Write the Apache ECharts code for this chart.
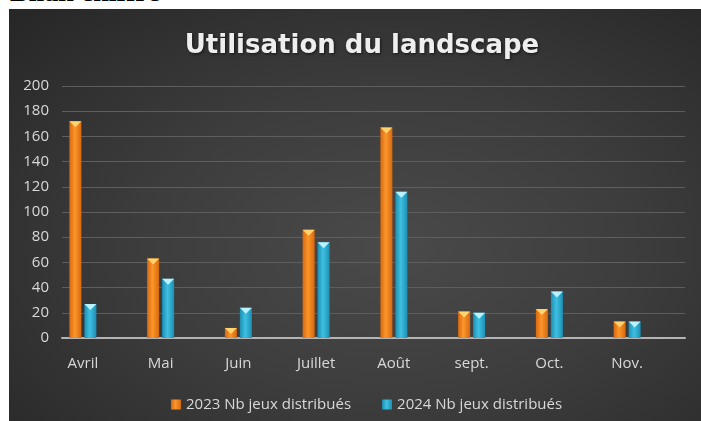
<!DOCTYPE html>
<html>
<head>
<meta charset="utf-8">
<script src="https://cdn.jsdelivr.net/npm/echarts@6/dist/echarts.min.js"></script>
<style>
  html, body { margin: 0; padding: 0; background: #fff; overflow: hidden; }
  #hdr { position: absolute; left: 10px; top: -22px; font: bold 28px "Liberation Serif", serif; line-height: 28px; color: #000; }
  #panel { position: absolute; left: 9px; top: 9px; width: 692px; height: 412px;
    background: radial-gradient(ellipse at 55% 58%, #4a4a4a 0%, #3d3d3d 45%, #262626 100%); }
  #chart { position: absolute; left: 0; top: 0; width: 701px; height: 421px; }
</style>
</head>
<body>
<div id="hdr">Bilan chiffré</div>
<div id="panel"></div>
<div id="chart"></div>
<script>
// values
var categories = ['Avril', 'Mai', 'Juin', 'Juillet', 'Août', 'sept.', 'Oct.', 'Nov.'];
var values2023 = [172, 63, 8, 86, 167, 21, 23, 13];
var values2024 = [27, 47, 24, 76, 116, 20, 37, 13];
var seriesNames = ['2023 Nb jeux distribués', '2024 Nb jeux distribués'];
var yMin = 0, yMax = 200, yStep = 20;

function barFill(dark, mid) {
  return new echarts.graphic.LinearGradient(0, 0, 1, 0, [
    { offset: 0, color: dark },
    { offset: 0.45, color: mid },
    { offset: 1, color: dark }
  ]);
}
var orange = barFill('#d8690f', '#fb962a');
var blue = barFill('#1d8fb3', '#3ec0e2');

function capSeries(name, data, color) {
  // the light triangle on top of each column
  return {
    name: name, type: 'pictorialBar', xAxisIndex: 1, yAxisIndex: 1,
    symbol: 'triangle', symbolRotate: 180, symbolSize: [12, 6],
    symbolPosition: 'end', barWidth: 12, barGap: '25%',
    itemStyle: { color: color }, data: data, z: 5, silent: true
  };
}

var chart = echarts.init(document.getElementById('chart'));
chart.setOption({
  backgroundColor: 'transparent',
  animation: false,
  title: {
    text: 'Utilisation du landscape',
    left: 357, top: 28, textAlign: 'center',
    textStyle: {
      fontFamily: 'DejaVu Sans', fontSize: 26, fontWeight: 600, color: '#eeeeee',
      textShadowColor: 'rgba(0,0,0,0.6)', textShadowBlur: 3, textShadowOffsetX: 1, textShadowOffsetY: 1
    }
  },
  legend: {
    data: seriesNames,
    left: 166, top: 392,
    icon: 'rect', itemWidth: 10, itemHeight: 10, itemGap: 31,
    textStyle: { color: '#d9d9d9', fontFamily: 'Open Sans', fontSize: 15 }
  },
  grid: [
    { left: 62, right: 16, top: 86, bottom: 83 },
    { left: 44, right: 35, top: 86, bottom: 83 }
  ],
  xAxis: [
    {
      gridIndex: 0, type: 'category', data: categories,
      axisLine: { lineStyle: { color: '#b4b4b4', width: 2 } },
      axisTick: { show: false }, axisLabel: { show: false }
    },
    {
      gridIndex: 1, type: 'category', data: categories,
      axisLine: { show: false }, axisTick: { show: false },
      axisLabel: { color: '#d9d9d9', fontFamily: 'Open Sans', fontSize: 15, margin: 18 }
    }
  ],
  yAxis: [
    {
      gridIndex: 0, type: 'value', min: yMin, max: yMax, interval: yStep,
      axisLine: { show: false }, axisTick: { show: false },
      axisLabel: { color: '#d9d9d9', fontFamily: 'Open Sans', fontSize: 15, margin: 13 },
      splitLine: { lineStyle: { color: '#5e5e5e', width: 1 } }
    },
    {
      gridIndex: 1, type: 'value', min: yMin, max: yMax, interval: yStep,
      show: false, splitLine: { show: false }
    }
  ],
  series: [
    {
      name: seriesNames[0], type: 'bar', xAxisIndex: 1, yAxisIndex: 1,
      barWidth: 12, barGap: '25%', itemStyle: { color: orange }, data: values2023
    },
    {
      name: seriesNames[1], type: 'bar', xAxisIndex: 1, yAxisIndex: 1,
      barWidth: 12, barGap: '25%', itemStyle: { color: blue }, data: values2024
    },
    capSeries('cap2023', values2023, '#ffd36e'),
    capSeries('cap2024', values2024, '#b8f2ff')
  ]
});
</script>
</body>
</html>
